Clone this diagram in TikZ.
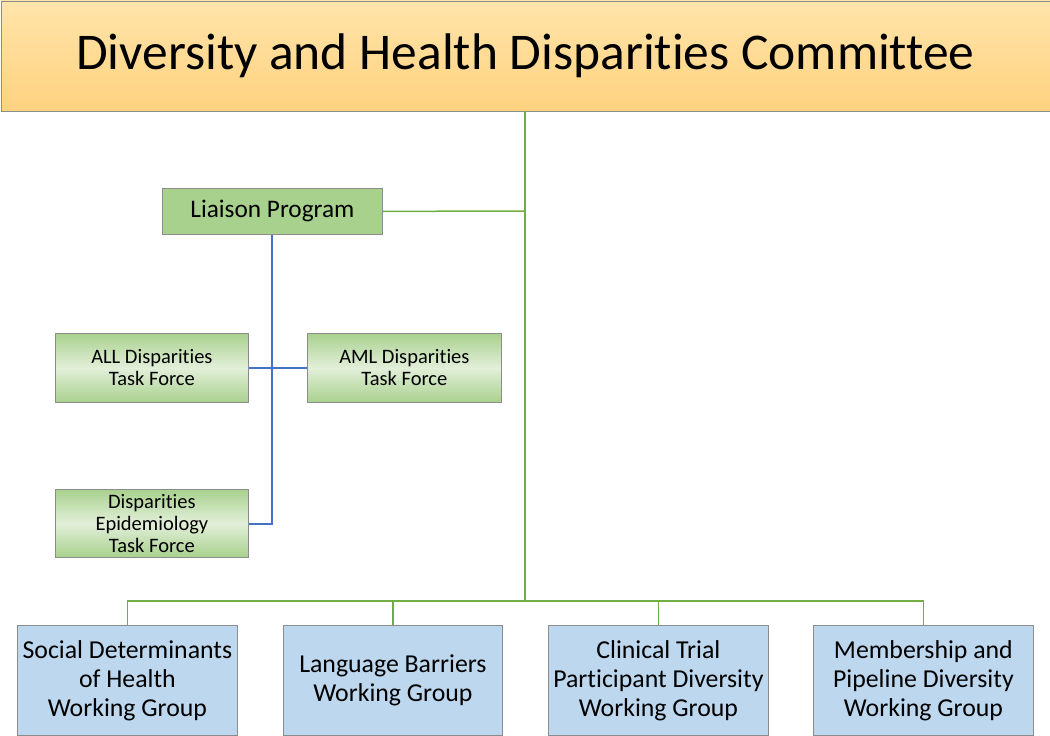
\documentclass[tikz,border=0pt]{standalone}
\usepackage{fontspec}
\setmainfont{Carlito}[Ligatures=CommonOff]
\begin{document}
\begin{tikzpicture}[x=1pt,y=-1pt,
  box/.style={draw=black!45,line width=0.8pt,inner sep=0pt,align=center,anchor=north west},
  topbox/.style={box,font=\fontsize{51.5}{56}\selectfont},
  liaison/.style={box,font=\fontsize{25.3}{30}\selectfont},
  tfbox/.style={box,font=\fontsize{20.5}{22}\selectfont},
  wgbox/.style={box,font=\fontsize{25.8}{29}\selectfont},
  gline/.style={line width=1.5pt},
  bline/.style={line width=1.5pt}]
\useasboundingbox (0,0) rectangle (1050,736);
\definecolor{topA}{HTML}{FFE4AA}
\definecolor{topB}{HTML}{FFD27F}
\definecolor{liA}{HTML}{A9D18E}
\definecolor{tfE}{HTML}{A9D18E}
\definecolor{tfM}{HTML}{E2EFD9}
\definecolor{wg}{HTML}{BDD7EE}
\definecolor{gl}{HTML}{70AD47}
\definecolor{bl}{HTML}{4472C4}
\node[topbox,top color=topA,bottom color=topB,minimum width=1049pt,minimum height=110pt] (top) at (0.5,0.5) {Diversity and Health Disparities Committee};
\node[liaison,fill=liA,minimum width=220pt,minimum height=46pt] (lp) at (162,188) {Liaison Program};
\node[tfbox,top color=tfE,bottom color=tfE,middle color=tfM,minimum width=193pt,minimum height=69pt] (all) at (55,333) {ALL Disparities\\Task Force};
\node[tfbox,top color=tfE,bottom color=tfE,middle color=tfM,minimum width=194pt,minimum height=69pt] (aml) at (307,333) {AML Disparities\\Task Force};
\node[tfbox,top color=tfE,bottom color=tfE,middle color=tfM,minimum width=193pt,minimum height=68pt] (epi) at (55,489) {Disparities\\Epidemiology\\Task Force};
\node[wgbox,fill=wg,minimum width=220pt,minimum height=110pt] (w1) at (17,625) {Social Determinants\\of Health\\Working Group};
\node[wgbox,fill=wg,minimum width=219pt,minimum height=110pt] (w2) at (283,625) {Language Barriers\\Working Group};
\node[wgbox,fill=wg,minimum width=220pt,minimum height=110pt] (w3) at (548,625) {Clinical Trial\\Participant Diversity\\Working Group};
\node[wgbox,fill=wg,minimum width=220pt,minimum height=110pt] (w4) at (813,625) {Membership and\\Pipeline Diversity\\Working Group};
\coordinate (trunk) at (525,601);
\coordinate (lj) at (525,211);
\coordinate (bj) at (272,524);
\coordinate (mj) at (272,368);
\draw[gline,draw=gl] (top.south -| trunk) -- (trunk);
\draw[gline,draw=gl] (lp.east) -- (lj);
\draw[gline,draw=gl] (w1.north) |- (trunk) -| (w4.north);
\draw[gline,draw=gl] (w2.north) |- (trunk);
\draw[gline,draw=gl] (w3.north) |- (trunk);
\draw[bline,draw=bl] (lp.south -| bj) -- (bj) -- (bj -| epi.east);
\draw[bline,draw=bl] (all.east |- mj) -- (aml.west |- mj);
\end{tikzpicture}
\end{document}
